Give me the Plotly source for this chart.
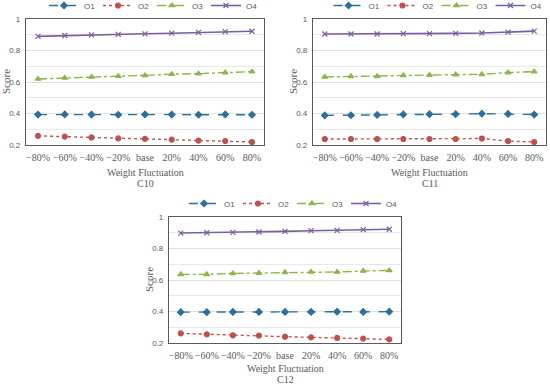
import plotly.graph_objects as go

categories = ["\u221280%", "\u221260%", "\u221240%", "\u221220%", "base", "20%", "40%", "60%", "80%"]
series_names = ["O1", "O2", "O3", "O4"]

c10_o1 = [0.393, 0.394, 0.393, 0.392, 0.394, 0.393, 0.392, 0.394, 0.392]
c10_o2 = [0.258, 0.253, 0.248, 0.242, 0.239, 0.234, 0.228, 0.225, 0.219]
c10_o3 = [0.619, 0.626, 0.632, 0.637, 0.642, 0.650, 0.653, 0.660, 0.666]
c10_o4 = [0.890, 0.895, 0.899, 0.902, 0.906, 0.910, 0.915, 0.920, 0.922]

c11_o1 = [0.388, 0.389, 0.391, 0.394, 0.396, 0.396, 0.399, 0.397, 0.393]
c11_o2 = [0.238, 0.238, 0.238, 0.238, 0.238, 0.238, 0.241, 0.225, 0.219]
c11_o3 = [0.632, 0.636, 0.636, 0.642, 0.644, 0.647, 0.649, 0.660, 0.666]
c11_o4 = [0.905, 0.905, 0.905, 0.907, 0.907, 0.909, 0.911, 0.917, 0.923]

c12_o1 = [0.396, 0.396, 0.397, 0.397, 0.397, 0.397, 0.399, 0.397, 0.399]
c12_o2 = [0.261, 0.255, 0.249, 0.247, 0.240, 0.236, 0.232, 0.228, 0.223]
c12_o3 = [0.636, 0.636, 0.642, 0.644, 0.649, 0.651, 0.651, 0.657, 0.661]
c12_o4 = [0.898, 0.900, 0.902, 0.905, 0.909, 0.913, 0.915, 0.920, 0.922]

panel_titles = ["C10", "C11", "C12"]
panels = [
    [c10_o1, c10_o2, c10_o3, c10_o4],
    [c11_o1, c11_o2, c11_o3, c11_o4],
    [c12_o1, c12_o2, c12_o3, c12_o4],
]

colors = ["#2B6FA0", "#C0504D", "#8DB548", "#7A5FA0"]
dashes = ["dash", "dot", "dashdot", "solid"]
symbols = ["diamond", "circle", "triangle-up", "x-thin"]
msizes = [5, 5, 5, 5]

W, H = 550, 384
# plot areas in pixels: (left, right, top, bottom)
boxes = [(26, 264, 19, 145), (313, 546, 19, 145), (169, 401, 217, 343)]
legend_tops = [-9, -9, 189]
legend_shift = 7
label_offsets = [(27, 38), (27, 38), (25, 36)]

fig = go.Figure()
serif = "Liberation Serif"
sans = "Liberation Sans"

for i, (vals, title, box) in enumerate(zip(panels, panel_titles, boxes)):
    ax = "" if i == 0 else str(i + 1)
    leg = "legend" if i == 0 else "legend" + str(i + 1)
    for j in range(4):
        fig.add_trace(go.Scatter(
            x=categories, y=vals[j], name=series_names[j], mode="lines+markers",
            line=dict(color=colors[j], dash=dashes[j], width=1.4 if j != 3 else 1.6),
            marker=dict(symbol=symbols[j], size=msizes[j], color=colors[j],
                        line=dict(color=colors[j], width=1.2)),
            xaxis="x" + ax, yaxis="y" + ax, legend=leg,
        ))
    l, r, t, b = box
    xd = [l / W, r / W]
    yd = [1 - b / H, 1 - t / H]
    fig.update_layout(**{
        "xaxis" + ax: dict(
            domain=xd, anchor="y" + ax, type="category", range=[-0.45, 8.45],
            showline=True, mirror=True, linecolor="#595959", linewidth=1.2,
            showgrid=False, ticks="", tickangle=0, automargin=False, ticklabelstandoff=3,
            tickfont=dict(family=serif, size=10, color="#595959"),
        ),
        "yaxis" + ax: dict(
            domain=yd, anchor="x" + ax, range=[0.2, 1.0], dtick=0.2, tick0=0.2,
            showline=True, mirror=True, linecolor="#595959", linewidth=1.2,
            showgrid=True, gridcolor="#E0E0E0", gridwidth=1, zeroline=False,
            minor=dict(dtick=0.1, tick0=0.2, showgrid=True, gridcolor="#E8E8E8"),
            ticks="", automargin=False, ticklabelstandoff=3,
            tickfont=dict(family=sans, size=8, color="#595959"),
        ),
        leg: dict(
            orientation="h", x=((l + r) / 2 + legend_shift) / W, xanchor="center",
            y=1 - legend_tops[i] / H, yanchor="top",
            font=dict(family=sans, size=8, color="#595959"),
            entrywidth=9, entrywidthmode="pixels", itemwidth=30,
            bgcolor="rgba(0,0,0,0)", tracegroupgap=0,
        ),
    })
    cx = (l + r) / 2 / W
    o1, o2 = label_offsets[i]
    fig.add_annotation(text="Weight Fluctuation", x=cx, y=1 - (b + o1) / H, xref="paper", yref="paper",
                       xanchor="center", yanchor="middle", showarrow=False,
                       font=dict(family=serif, size=10, color="#595959"))
    fig.add_annotation(text=title, x=cx, y=1 - (b + o2) / H, xref="paper", yref="paper",
                       xanchor="center", yanchor="middle", showarrow=False,
                       font=dict(family=serif, size=10, color="#595959"))
    fig.add_annotation(text="Score", x=(l - 20) / W, y=(yd[0] + yd[1]) / 2, xref="paper", yref="paper",
                       xanchor="center", yanchor="middle", showarrow=False, textangle=-90,
                       font=dict(family=serif, size=11, color="#595959"))

fig.update_layout(
    width=W, height=H, margin=dict(l=0, r=0, t=0, b=0, autoexpand=False),
    paper_bgcolor="white", plot_bgcolor="white", showlegend=True,
)

fig.write_html("out.html", config={"displayModeBar": False},
               post_script="document.body.style.margin='0';")
